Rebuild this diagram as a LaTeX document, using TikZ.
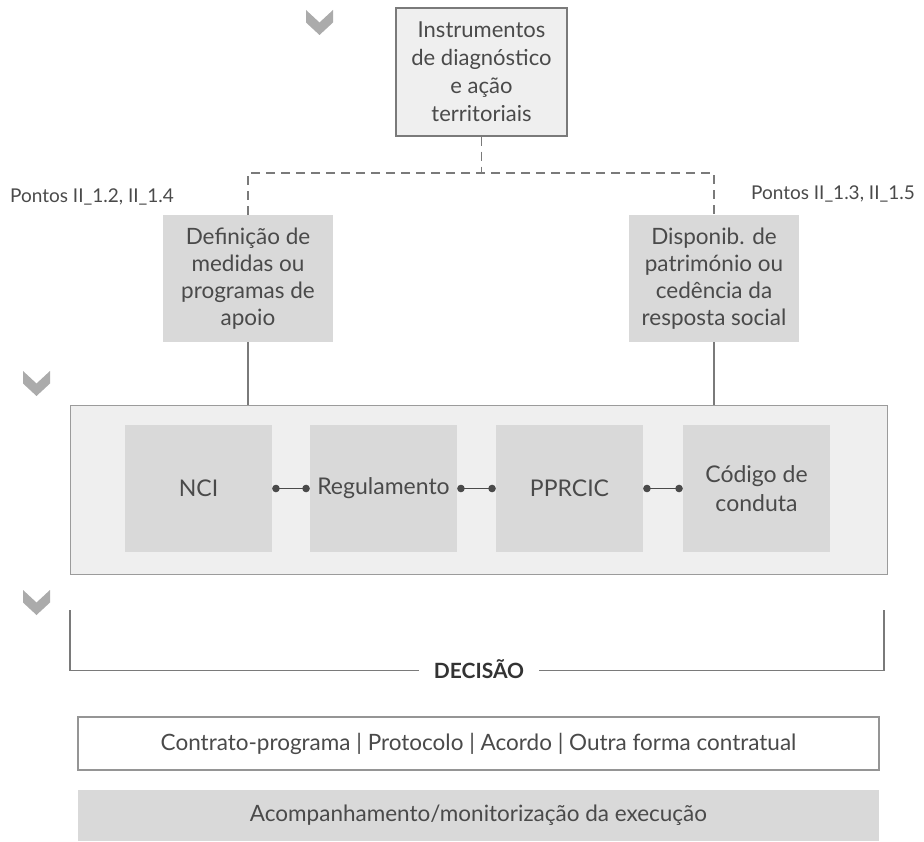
\documentclass[tikz,border=0pt]{standalone}
\usepackage{fontspec}
\setmainfont{Lato}
\usetikzlibrary{arrows.meta}
\definecolor{boxgrey}{HTML}{D9D9D9}
\definecolor{panelgrey}{HTML}{EFEFEF}
\definecolor{linegrey}{HTML}{7A7A7A}
\definecolor{txtgrey}{HTML}{4A4A4A}
\definecolor{chevgrey}{HTML}{ABABAB}

\begin{document}
\begin{tikzpicture}[x=1pt,y=-1pt,
	every node/.style={text=txtgrey, align=center, inner sep=0pt},
	topbox/.style={draw=linegrey, line width=1.3pt, fill=panelgrey, minimum width=171pt, minimum height=128pt, font=\fontsize{22}{28}\selectfont},
	sidebox/.style={fill=boxgrey, minimum width=170pt, minimum height=127pt, font=\fontsize{22.5}{27.2}\selectfont},
	docbox/.style={fill=boxgrey, minimum width=147pt, minimum height=127pt, font=\fontsize{23}{28.3}\selectfont},
	panel/.style={draw=linegrey!75, line width=1pt, fill=panelgrey, minimum width=817pt, minimum height=169pt},
	ref/.style={font=\fontsize{19}{22}\selectfont},
	dashline/.style={draw=linegrey, line width=1.2pt, dash pattern=on 9pt off 6pt},
	solidline/.style={draw=linegrey, line width=1.2pt},
	link/.style={draw=txtgrey, line width=1pt, {Circle[length=7.5pt]}-{Circle[length=7.5pt]}},
	bracket/.style={draw=linegrey, line width=1.5pt},
	outbox/.style={minimum width=801pt, font=\fontsize{22.5}{26}\selectfont},
	chevron/.pic={\fill[chevgrey] (-13.5,0) -- (0,12.5) -- (13.5,0) -- (13.5,12.5) -- (0,25) -- (-13.5,12.5) -- cycle;}
	]
	\useasboundingbox (0,0) rectangle (924,842);

	\pic at (319.5,10) {chevron};
	\pic at (36.5,371) {chevron};
	\pic at (36.5,590) {chevron};

	\node[topbox] (instr) at (481.5,72) {Instrumentos\\de diagnóstico\\e ação\\territoriais};

	\node[sidebox] (medidas) at (248,278.5) {Definição de\\medidas ou\\programas de\\apoio};
	\node[sidebox] (patrim) at (714,278.5) {Disponib. de\\património ou\\cedência da\\resposta social};

	\node[ref, anchor=base west] (refl) at (10,203) {Pontos II\_1.2, II\_1.4};
	\node[ref, anchor=base east] (refr) at (915,200) {Pontos II\_1.3, II\_1.5};

	\coordinate (fork) at (481.5,173);
	\draw[dashline] (instr.south) -- (fork);
	\draw[dashline] (medidas.north) |- (fork) -| (patrim.north);

	\node[panel] (panel) at (478.5,489.5) {};
	\node[docbox] (nci) at (198.5,488.5) {NCI};
	\node[docbox] (reg) at (383.5,488.5) {Regulamento};
	\node[docbox] (pprcic) at (569.5,488.5) {PPRCIC};
	\node[docbox] (codigo) at (756.5,488.5) {Código de\\conduta};

	\draw[solidline] (medidas.south) -- (medidas.south |- panel.north);
	\draw[solidline] (patrim.south) -- (patrim.south |- panel.north);

	\draw[link] (nci.east) -- (reg.west);
	\draw[link] (reg.east) -- (pprcic.west);
	\draw[link] (pprcic.east) -- (codigo.west);

	\coordinate (dl) at (70,610);
	\coordinate (dr) at (884,610);
	\node[font=\fontsize{21}{24}\selectfont\bfseries, text=black!80, text height=15pt, text depth=0pt, inner xsep=15pt] (decis) at (479,670.5) {DECISÃO};
	\draw[bracket] (dl) |- (decis.west);
	\draw[bracket] (dr) |- (decis.east);

	\node[outbox, draw=linegrey!80, line width=1.2pt, fill=white, minimum height=53pt] (contrato) at (478.5,743.5) {Contrato-programa | Protocolo | Acordo | Outra forma contratual};
	\node[outbox, fill=boxgrey, minimum height=51pt] (acomp) at (478.5,815.5) {Acompanhamento/monitorização da execução};
\end{tikzpicture}
\end{document}
